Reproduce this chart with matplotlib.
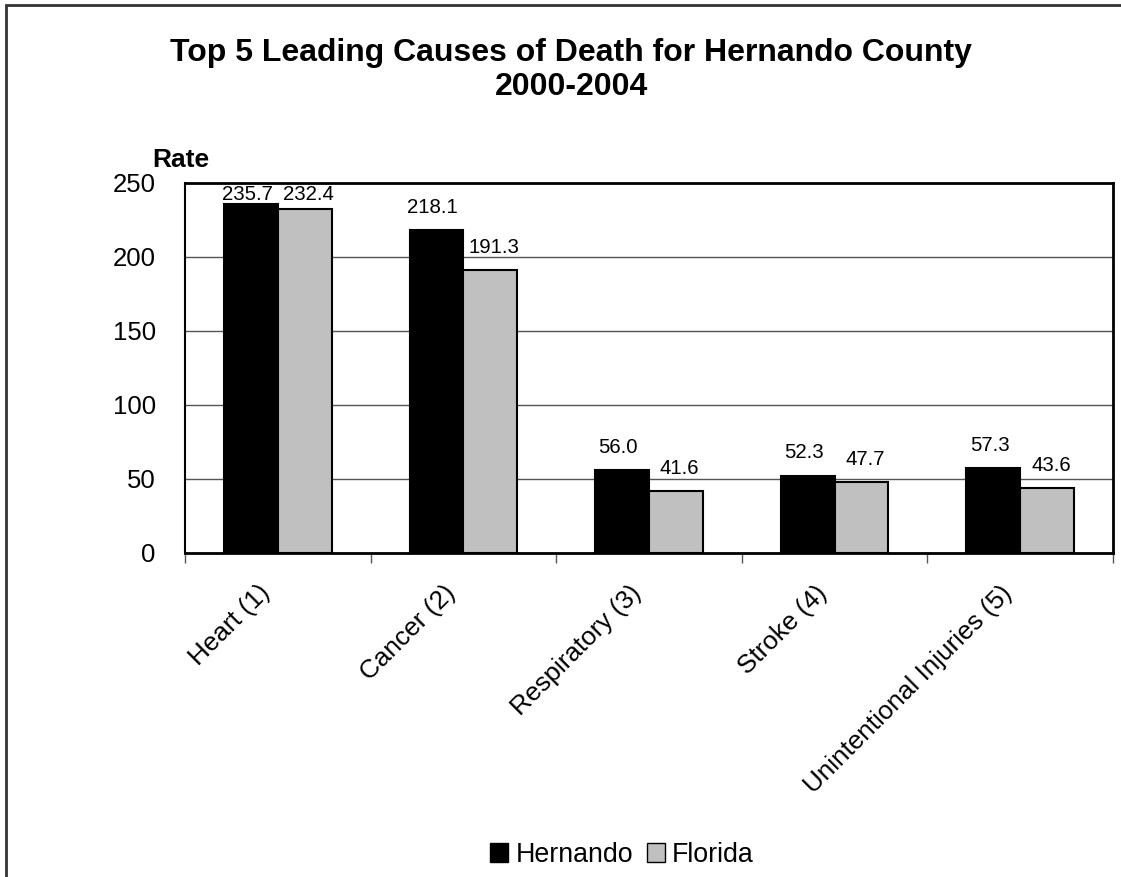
import matplotlib.pyplot as plt
import matplotlib.patches as mpatches
from matplotlib.transforms import ScaledTranslation
import numpy as np

plt.rcParams['font.family'] = ['Liberation Sans', 'DejaVu Sans']

causes = ['Heart (1)', 'Cancer (2)', 'Respiratory (3)', 'Stroke (4)', 'Unintentional Injuries (5)']
hernando = [235.7, 218.1, 56.0, 52.3, 57.3]
florida = [232.4, 191.3, 41.6, 47.7, 43.6]

fig = plt.figure(figsize=(11.21, 8.77), dpi=100)
ax = fig.add_axes([185/1121, 1-553/877, (1113-185)/1121, (553-183)/877])

x = np.arange(len(causes))
w = 0.29
ax.bar(x - w/2, hernando, w, color='black', edgecolor='black', linewidth=1.5, zorder=3, label='Hernando')
ax.bar(x + w/2, florida, w, color='#c0c0c0', edgecolor='black', linewidth=1.5, zorder=3, label='Florida')

# labels sit ~10 units above bars, but never above the plot top
for i in range(len(causes)):
    ax.text(x[i] - w/2 - 0.02, min(hernando[i] + 9, 236), '%.1f' % hernando[i],
            ha='center', va='bottom', fontsize=14.7)
    ax.text(x[i] + w/2 + 0.02, min(florida[i] + 9, 236), '%.1f' % florida[i],
            ha='center', va='bottom', fontsize=14.7)

ax.set_xlim(-0.5, 4.5)
ax.set_ylim(0, 250)
ax.set_yticks([0, 50, 100, 150, 200, 250])
ax.yaxis.grid(True, color='#555555', linewidth=1, zorder=0)
ax.tick_params(axis='y', length=0, pad=21, labelsize=18.5)

ax.set_xticks(np.arange(-0.5, 5, 1))
ax.set_xticklabels([])
ax.tick_params(axis='x', length=7, direction='out', width=1, color='#555555')
ax.set_xticks(x, minor=True)
ax.set_xticklabels(causes, minor=True, rotation=45, ha='right', rotation_mode='anchor', fontsize=18.8)
ax.tick_params(axis='x', which='minor', length=0, pad=20)
shift = ScaledTranslation(-0.2, 0, fig.dpi_scale_trans)
for lab in ax.get_xticklabels(minor=True):
    lab.set_transform(lab.get_transform() + shift)

for s in ax.spines.values():
    s.set_linewidth(2)
    s.set_color('black')
ax.spines['left'].set_linewidth(1.5)

fig.text(571/1121, 1-70/877, 'Top 5 Leading Causes of Death for Hernando County\n2000-2004',
         ha='center', va='center', fontsize=23, fontweight='bold', linespacing=1.2)
fig.text(152/1121, 1-160/877, 'Rate', ha='left', va='center', fontsize=19, fontweight='bold')

handles = [mpatches.Patch(facecolor='black', edgecolor='black'),
           mpatches.Patch(facecolor='#c0c0c0', edgecolor='black')]
fig.legend(handles, ['Hernando', 'Florida'], loc='center', bbox_to_anchor=(622/1121, 1-855/877),
           ncol=2, frameon=False, fontsize=19.3, handlelength=0.67, handleheight=0.67,
           handletextpad=0.26, columnspacing=0.52, borderpad=0)

# frame around the chart, cut off at right and bottom
fig.patches.append(mpatches.Rectangle((6/1121, -0.05), 1.2, 1 - 5/877 + 0.05, transform=fig.transFigure,
                                      fill=False, edgecolor='#333333', linewidth=2))

fig.savefig('out.png', dpi=100)
